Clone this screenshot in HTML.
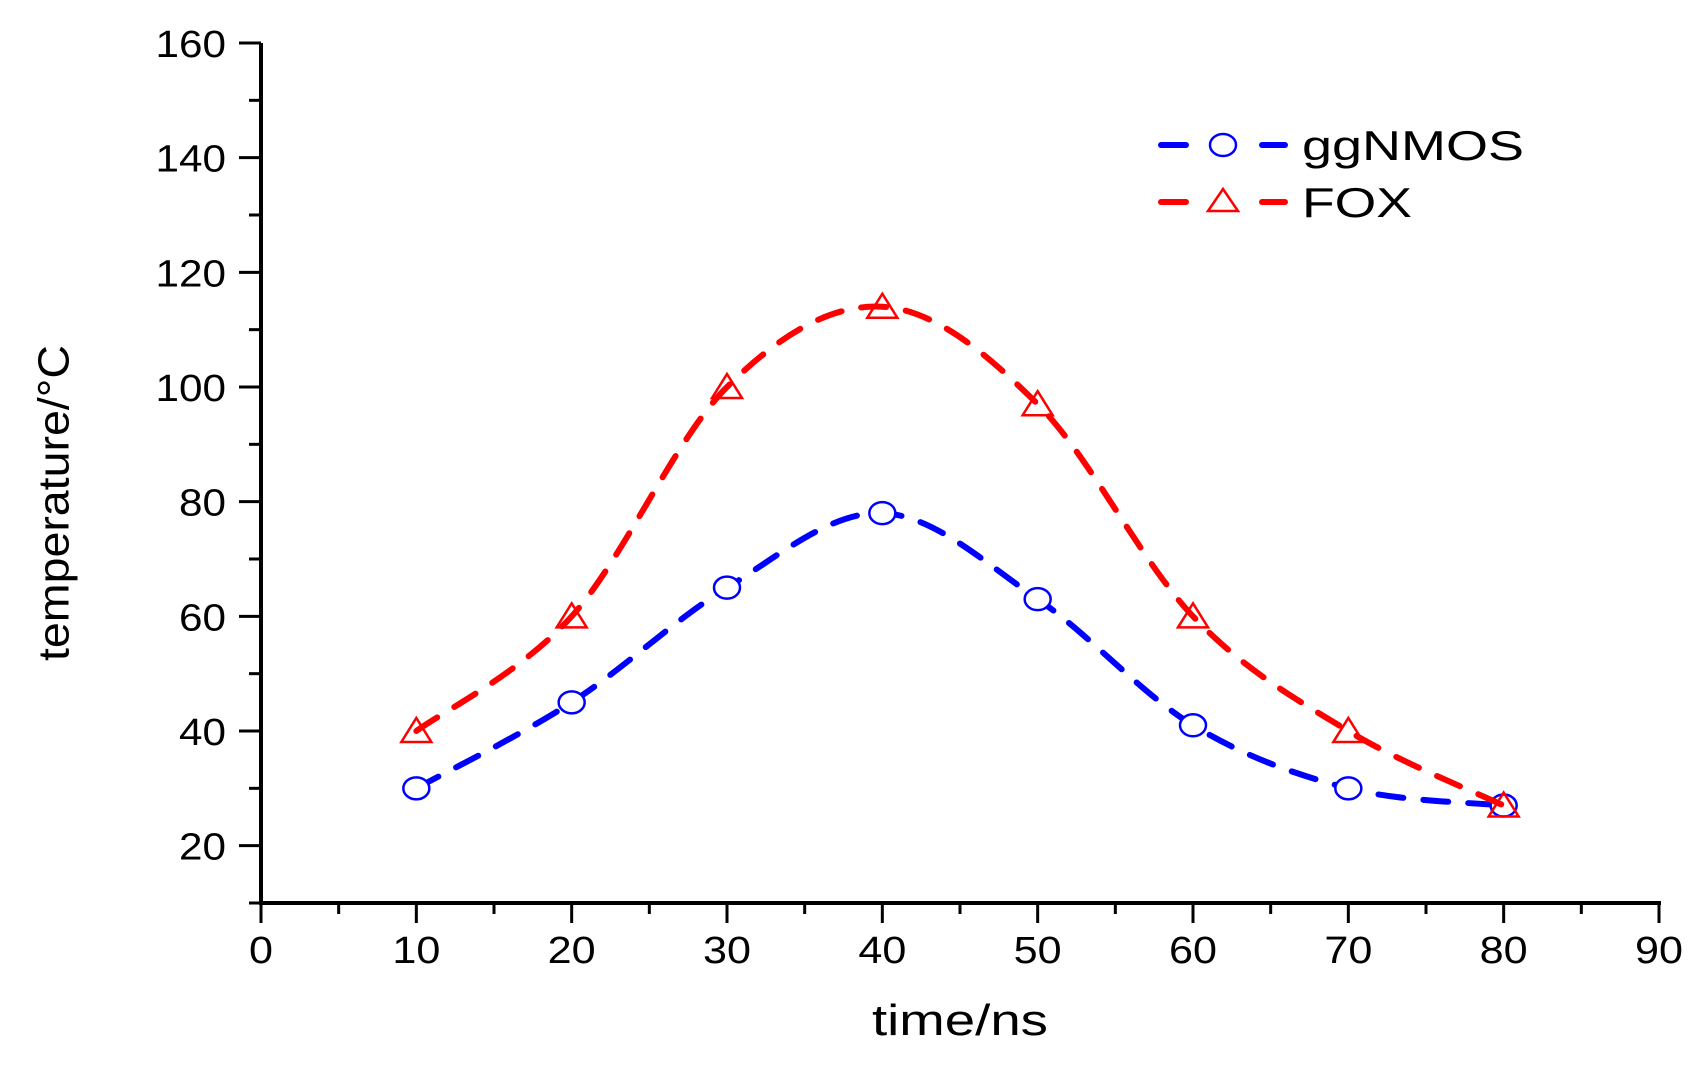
<!DOCTYPE html>
<html><head><meta charset="utf-8"><style>
html,body{margin:0;padding:0;background:#fff;}
svg{display:block;font-family:"Liberation Sans",Arial,sans-serif;}
</style></head><body>
<svg id="chart" width="1695" height="1066" viewBox="0 0 1695 1066">
<g id="axes"></g>
<g id="series"></g>
<text x="54" y="503" font-size="44" text-anchor="middle" transform="rotate(-90 54 503)" dominant-baseline="central" textLength="316" lengthAdjust="spacingAndGlyphs">temperature/°C</text>
<text x="960" y="1035" font-size="44" text-anchor="middle" textLength="176" lengthAdjust="spacingAndGlyphs">time/ns</text>
<g>
 <g>
  <line x1="1161" y1="145" x2="1186" y2="145" stroke="#0000ff" stroke-width="6" stroke-linecap="round"/>
  <ellipse cx="1223" cy="145" rx="13" ry="11" fill="none" stroke="#0000ff" stroke-width="2.5"/>
  <line x1="1262" y1="145" x2="1285" y2="145" stroke="#0000ff" stroke-width="6" stroke-linecap="round"/>
  <text x="1302" y="160" font-size="42" textLength="222" lengthAdjust="spacingAndGlyphs">ggNMOS</text>
 </g>
 <g>
  <line x1="1161" y1="202" x2="1186" y2="202" stroke="#ff0000" stroke-width="6" stroke-linecap="round"/>
  <polygon points="1223,189 1238,211 1208,211" fill="none" stroke="#ff0000" stroke-width="2.5"/>
  <line x1="1262" y1="202" x2="1285" y2="202" stroke="#ff0000" stroke-width="6" stroke-linecap="round"/>
  <text x="1302" y="217" font-size="42" textLength="110" lengthAdjust="spacingAndGlyphs">FOX</text>
 </g>
</g>
</svg>
<script>
const xValues = [10,20,30,40,50,60,70,80];
const ggnmos = [30,45,65,78,63,41,30,27];
const fox = [40,60,100,114,97,60,40,27];
const xTicks = [0,10,20,30,40,50,60,70,80,90];
const yTicks = [20,40,60,80,100,120,140,160];

const NS='http://www.w3.org/2000/svg';
const X0=261,X1=1659,XMIN=0,XMAX=90;
const YB=903,YT=43,YMIN=10,YMAX=160;
function sx(v){return X0+(v-XMIN)/(XMAX-XMIN)*(X1-X0);}
function sy(v){return YB-(v-YMIN)/(YMAX-YMIN)*(YB-YT);}
function mk(tag,attrs,parent){const e=document.createElementNS(NS,tag);for(const k in attrs)e.setAttribute(k,attrs[k]);parent.appendChild(e);return e;}

const axes=document.getElementById('axes');
const ya=mk('line',{x1:X0,y1:YB,x2:X0,y2:YT,stroke:'#000','stroke-width':4},axes);


const xa=mk('line',{x1:X0-2,y1:YB,x2:X1+2,y2:YB,stroke:'#000','stroke-width':4},axes);


for(let v=YMIN;v<=YMAX;v+=10){
  const major=v%20===0;
  const t=mk('line',{x1:X0-(major?22:12),y1:sy(v),x2:X0,y2:sy(v),stroke:'#000','stroke-width':3},axes);
  
  
}
yTicks.forEach(v=>{
  const s=String(v);
  const t=mk('text',{x:226,y:sy(v)+14,'font-size':38,'text-anchor':'end',textLength:s.length*23.5,lengthAdjust:'spacingAndGlyphs'},axes);
  t.textContent=s;
  
  
});
for(let v=XMIN;v<=XMAX;v+=5){
  const major=v%10===0;
  const t=mk('line',{x1:sx(v),y1:YB,x2:sx(v),y2:YB+(major?20:11),stroke:'#000','stroke-width':3},axes);
  
  
}
xTicks.forEach(v=>{
  const s=String(v);
  const t=mk('text',{x:sx(v),y:963,'font-size':38,'text-anchor':'middle',textLength:s.length*24,lengthAdjust:'spacingAndGlyphs'},axes);
  t.textContent=s;
  
  
});

function smoothPath(xs,ys){
  const p=xs.map((x,i)=>[sx(x),sy(ys[i])]);
  let d='M'+p[0][0]+','+p[0][1];
  for(let i=0;i<p.length-1;i++){
    const p0=p[i-1]||p[i],p1=p[i],p2=p[i+1],p3=p[i+2]||p[i+1];
    const c1=[p1[0]+(p2[0]-p0[0])/6,p1[1]+(p2[1]-p0[1])/6];
    const c2=[p2[0]-(p3[0]-p1[0])/6,p2[1]-(p3[1]-p1[1])/6];
    d+=' C'+c1+' '+c2+' '+p2;
  }
  return d;
}
const series=document.getElementById('series');
function drawSeries(vals,color,name,marker){
  const g=mk('g',{},series);
  
  
  const path=mk('path',{d:smoothPath(xValues,vals),fill:'none',stroke:color,'stroke-width':6,'stroke-dasharray':'25 20','stroke-linecap':'round'},g);
  
  
  xValues.forEach((x,i)=>{
    const cx=sx(x),cy=sy(vals[i]);
    let m;
    if(marker==='circle') m=mk('ellipse',{cx:cx,cy:cy,rx:13,ry:11,fill:'#fff',stroke:color,'stroke-width':2.5},g);
    else m=mk('polygon',{points:[cx,cy-13,cx+15,cy+11,cx-15,cy+11].join(' '),fill:'none',stroke:color,'stroke-width':2.5},g);
    
    
  });
}
drawSeries(ggnmos,'#0000ff','ggnmos','circle');
drawSeries(fox,'#ff0000','fox','triangle');
</script>
</body></html>
